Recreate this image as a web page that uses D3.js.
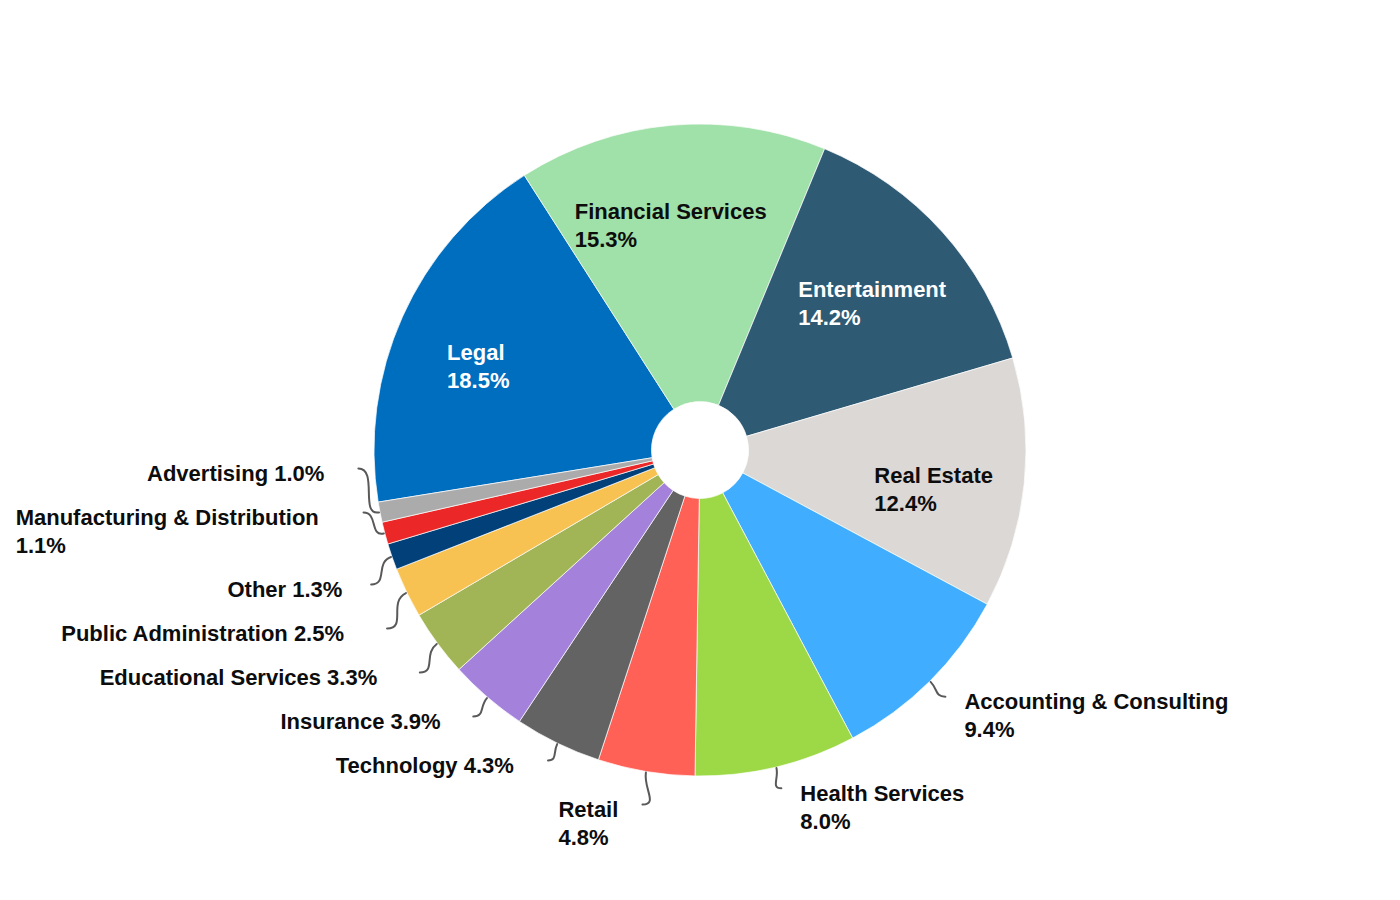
<!DOCTYPE html>
<html>
<head>
<meta charset="utf-8">
<script src="https://cdn.jsdelivr.net/npm/d3@7"></script>
<style>
  html, body { margin: 0; padding: 0; background: #ffffff; }
  svg text { font-family: "Liberation Sans", Arial, Helvetica, sans-serif; font-weight: bold; }
</style>
</head>
<body>
<svg id="chart" width="1400" height="900"></svg>
<script>
// ---- data ----
const categories = [
  "Legal", "Financial Services", "Entertainment", "Real Estate",
  "Accounting & Consulting", "Health Services", "Retail", "Technology",
  "Insurance", "Educational Services", "Public Administration", "Other",
  "Manufacturing & Distribution", "Advertising"
];
const shares = [18.5, 15.3, 14.2, 12.4, 9.4, 8.0, 4.8, 4.3, 3.9, 3.3, 2.5, 1.3, 1.1, 1.0];
const sliceColors = [
  "#006ebe", "#a0e0a9", "#2e5a73", "#dcd8d6",
  "#41adfe", "#9dd947", "#ff6157", "#636363",
  "#a482dc", "#a2b556", "#f8c253", "#014079",
  "#ec2727", "#ababab"
];

// ---- layout / style ----
const W = 1400, H = 900;
const cx = 700, cy = 450;
const R = 326, R0 = 48.5;
const startDeg = -99.2;
const fontSize = 22, lineH = 28, capHalf = 0.716 * fontSize / 2;
const widthPad = 1.085;      // label layout reserves a little more than the drawn text width
const insideMin = 10;        // slices at or above this share get inside labels
const labelR = 240;          // radius of inside label anchor
const leaderR = 348;         // radius of outside label anchor
const gapY = 16;             // vertical gap between outside labels
const gapX = 19;             // horizontal gap between leader end and text
const textColor = "#0d0d0d";
const leaderColor = "#595959";

const svg = d3.select("#chart");
svg.append("rect").attr("width", W).attr("height", H).attr("fill", "#ffffff");
const g = svg.append("g").attr("transform", `translate(${cx},${cy})`);

const total = d3.sum(shares);
const data = categories.map((c, i) => ({ name: c, v: shares[i], color: sliceColors[i] }));
const a0 = startDeg * Math.PI / 180;
const pie = d3.pie().sort(null).value(d => d.v).startAngle(a0).endAngle(a0 + 2 * Math.PI);
const arcs = pie(data);
const arc = d3.arc().innerRadius(R0).outerRadius(R);
const pctText = d => (d.v / total * 100).toFixed(1) + "%";

// slices
g.selectAll("path.slice").data(arcs).join("path")
  .attr("class", "slice")
  .attr("d", arc)
  .attr("fill", d => d.data.color)
  .attr("stroke", "#ffffff")
  .attr("stroke-width", 0.7);

// text measuring helper
const meas = svg.append("text").attr("font-size", fontSize).style("visibility", "hidden");
function tw(s) { meas.text(s); return meas.node().getComputedTextLength(); }

// inside labels
const insideArcs = arcs.filter(d => d.data.v >= insideMin);
insideArcs.forEach(d => {
  const mid = (d.startAngle + d.endAngle) / 2;
  const ax = labelR * Math.sin(mid), ay = -labelR * Math.cos(mid);
  const lines = [d.data.name, pctText(d.data)];
  const w = d3.max(lines, tw);
  const left = ax - widthPad * w / 2;
  const fill = d3.lab(d.data.color).l < 55 ? "#ffffff" : textColor;
  const t = g.append("text").attr("font-size", fontSize).attr("fill", fill);
  lines.forEach((ln, i) => {
    t.append("tspan").attr("x", left).attr("y", ay + capHalf + i * lineH).text(ln);
  });
});

// outside labels
const outs = arcs.filter(d => d.data.v < insideMin).map(d => {
  const mid = (d.startAngle + d.endAngle) / 2;
  const s = Math.sin(mid), c = -Math.cos(mid);
  const side = s >= 0 ? 1 : -1;
  const nx = leaderR * s, ny = leaderR * c;
  const pct = pctText(d.data);
  const single = d.data.name + " " + pct;
  const singleLeft = cx + nx - gapX - widthPad * tw(single);
  const twoLine = side === 1 || ny > R || singleLeft < 8;
  const lines = twoLine ? [d.data.name, pct] : [single];
  return { d, mid, s, c, side, nx, ny, lines, n: lines.length };
});

function pack(items) {
  items.sort((a, b) => a.ny - b.ny);
  let off = 0;
  items.forEach(it => { it.off = off; off += it.n * lineH + gapY; });
  const blocks = [];
  items.forEach(it => {
    blocks.push({ sum: it.ny - it.off, cnt: 1, items: [it] });
    while (blocks.length > 1) {
      const b = blocks[blocks.length - 1], a = blocks[blocks.length - 2];
      if (a.sum / a.cnt > b.sum / b.cnt) {
        a.sum += b.sum; a.cnt += b.cnt; a.items = a.items.concat(b.items); blocks.pop();
      } else break;
    }
  });
  blocks.forEach(b => { const base = b.sum / b.cnt; b.items.forEach(it => { it.y = base + it.off; }); });
}
pack(outs.filter(o => o.side === -1));
pack(outs.filter(o => o.side === 1));

outs.forEach(o => {
  const ex = o.nx, ey = o.y;
  const p0x = (R + 1) * o.s, p0y = (R + 1) * o.c;
  const dist = Math.hypot(ex - p0x, ey - p0y);
  const k = Math.max(8, Math.min(20, 0.5 * dist));
  const p = d3.path();
  p.moveTo(p0x, p0y);
  p.bezierCurveTo(p0x + k * o.s, p0y + k * o.c, ex - o.side * k, ey, ex, ey);
  g.append("path").attr("d", p.toString())
    .attr("fill", "none").attr("stroke", leaderColor).attr("stroke-width", 2)
    .attr("stroke-linecap", "round");

  const w = d3.max(o.lines, tw);
  const left = o.side === 1 ? ex + gapX : ex - gapX - widthPad * w;
  const t = g.append("text").attr("font-size", fontSize).attr("fill", textColor);
  o.lines.forEach((ln, i) => {
    t.append("tspan").attr("x", left).attr("y", ey + 4.5 + capHalf + i * lineH).text(ln);
  });
});
meas.remove();
</script>
</body>
</html>
